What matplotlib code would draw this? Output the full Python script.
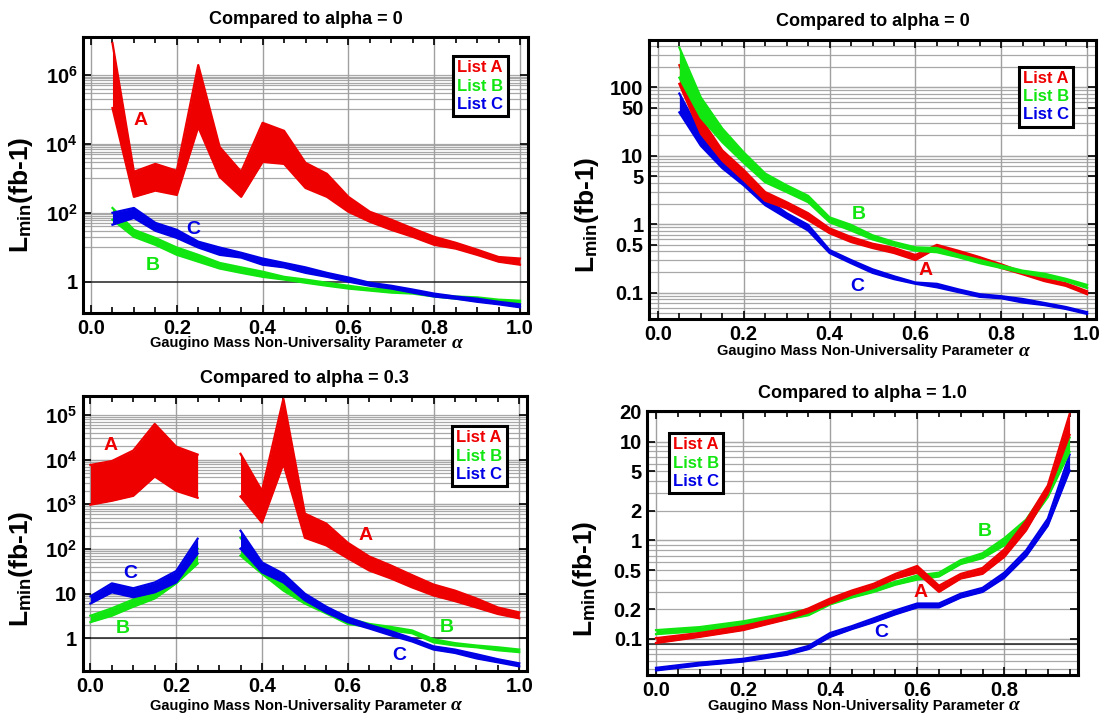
import numpy as np
import matplotlib
matplotlib.use('Agg')
import matplotlib.pyplot as plt
from matplotlib.lines import Line2D
from matplotlib.ticker import MultipleLocator, NullLocator, FormatStrFormatter

plt.rcParams['font.family'] = ['Liberation Sans', 'DejaVu Sans']
plt.rcParams['font.weight'] = 'bold'
plt.rcParams['mathtext.fontset'] = 'custom'
plt.rcParams['mathtext.rm'] = 'Liberation Sans:bold'
plt.rcParams['mathtext.bf'] = 'Liberation Sans:bold'
plt.rcParams['mathtext.it'] = 'Liberation Serif:italic'

RED = '#ee0000'
GREEN = '#11e611'
BLUE = '#0000e6'

# ---- panel 1: compared to alpha = 0 (wide range) ----
alpha_p1 = [0.05, 0.10, 0.15, 0.20, 0.25, 0.30, 0.35, 0.40, 0.45, 0.50,
            0.55, 0.60, 0.65, 0.70, 0.75, 0.80, 0.85, 0.90, 0.95, 1.00]
p1_a_hi = [8.5e6, 1550, 2630, 1660, 1.95e6, 8100, 1550, 4.1e4, 2.4e4, 2820,
           1350, 290, 107, 63, 35, 20, 13.5, 8.5, 5.2, 4.7]
p1_a_lo = [1.1e5, 290, 440, 330, 3.1e4, 1100, 290, 3000, 2630, 525,
           290, 107, 55, 32, 20, 11.7, 9.1, 6.0, 3.8, 3.1]
p1_b_hi = [138, 32, 18.6, 9.8, 6.0, 3.5, 2.6, 1.95, 1.38, 1.15,
           0.93, 0.76, 0.63, 0.59, 0.51, 0.42, 0.37, 0.35, 0.30, 0.28]
p1_b_lo = [63, 20, 11.7, 6.0, 3.8, 2.4, 1.8, 1.38, 1.15, 0.93,
           0.76, 0.63, 0.55, 0.48, 0.45, 0.37, 0.32, 0.28, 0.26, 0.25]
p1_c_hi = [100, 138, 51, 32, 14.5, 9.8, 6.9, 4.7, 3.5, 2.6,
           1.8, 1.32, 0.93, 0.76, 0.59, 0.45, 0.37, 0.32, 0.26, 0.22]
p1_c_lo = [45, 71, 30, 18.6, 9.8, 6.0, 5.0, 3.1, 2.6, 1.8,
           1.38, 1.0, 0.76, 0.63, 0.48, 0.37, 0.32, 0.26, 0.22, 0.18]

# ---- panel 2: compared to alpha = 0 ----
alpha_p2 = alpha_p1
p2_a_hi = [210, 35, 12, 6.2, 2.95, 2.1, 1.45, 0.87, 0.65, 0.52,
           0.45, 0.355, 0.50, 0.41, 0.33, 0.26, 0.20, 0.162, 0.138, 0.105]
p2_a_lo = [112, 21, 8.5, 4.4, 2.2, 1.7, 1.15, 0.74, 0.55, 0.45,
           0.38, 0.30, 0.45, 0.36, 0.30, 0.23, 0.186, 0.148, 0.126, 0.095]
p2_b_hi = [380, 71, 25, 11.2, 5.5, 3.7, 2.6, 1.26, 0.98, 0.69,
           0.55, 0.46, 0.45, 0.36, 0.30, 0.25, 0.21, 0.19, 0.16, 0.13]
p2_b_lo = [138, 36, 15.8, 7.9, 4.1, 2.95, 2.1, 1.07, 0.81, 0.60,
           0.49, 0.41, 0.39, 0.33, 0.27, 0.23, 0.195, 0.17, 0.148, 0.117]
p2_c_hi = [81, 21, 9.5, 5.1, 2.4, 1.45, 0.98, 0.42, 0.30, 0.22,
           0.174, 0.141, 0.135, 0.112, 0.095, 0.089, 0.081, 0.071, 0.062, 0.052]
p2_c_lo = [43, 14, 6.6, 3.7, 1.9, 1.23, 0.81, 0.38, 0.27, 0.195,
           0.158, 0.135, 0.12, 0.102, 0.087, 0.083, 0.072, 0.066, 0.058, 0.049]

# ---- panel 3: compared to alpha = 0.3 (gap around 0.3) ----
alpha_p3_left = [0.00, 0.05, 0.10, 0.15, 0.20, 0.25]
alpha_p3_right = [0.35, 0.40, 0.45, 0.50, 0.55, 0.60, 0.65,
                  0.70, 0.75, 0.80, 0.85, 0.90, 0.95, 1.00]
p3_a1_hi = [7600, 9300, 1.6e4, 6.3e4, 1.95e4, 1.3e4]
p3_a1_lo = [980, 1200, 1550, 4200, 2000, 1400]
p3_a2_hi = [1.35e4, 2000, 2.3e5, 620, 370, 138, 68, 43, 26, 16, 11.7, 7.8, 4.9, 3.8]
p3_a2_lo = [1500, 390, 8100, 178, 120, 62, 33, 22, 13.8, 9.1, 6.8, 4.9, 3.5, 2.8]
p3_b1_hi = [3.2, 4.7, 7.4, 10.7, 28, 102]
p3_b1_lo = [2.3, 3.2, 5.1, 7.8, 17, 47]
p3_b2_hi = [178, 43, 17.8, 8.3, 4.7, 2.8, 2.1, 1.8, 1.5, 0.95, 0.78, 0.69, 0.63, 0.56]
p3_b2_lo = [71, 28, 11.7, 6.0, 3.6, 2.1, 1.8, 1.5, 1.3, 0.81, 0.69, 0.63, 0.54, 0.49]
p3_c1_hi = [8.7, 17, 13.2, 17.8, 32, 170]
p3_c1_lo = [6.0, 10.7, 8.3, 10.7, 17.8, 79]
p3_c2_hi = [257, 50, 28, 10, 5.1, 2.95, 2.0, 1.45, 1.0, 0.66, 0.56, 0.44, 0.34, 0.275]
p3_c2_lo = [102, 30, 17.8, 7.1, 3.8, 2.3, 1.66, 1.17, 0.85, 0.56, 0.47, 0.355, 0.29, 0.235]

# ---- panel 4: compared to alpha = 1.0 ----
alpha_p4 = [0.00, 0.10, 0.20, 0.30, 0.35, 0.40, 0.45, 0.50, 0.55,
            0.60, 0.65, 0.70, 0.75, 0.80, 0.85, 0.90, 0.95]
p4_a_hi = [0.102, 0.115, 0.135, 0.17, 0.204, 0.257, 0.31, 0.363, 0.457,
           0.55, 0.347, 0.457, 0.525, 0.81, 1.58, 3.6, 19]
p4_a_lo = [0.091, 0.105, 0.123, 0.158, 0.186, 0.229, 0.282, 0.33, 0.41,
           0.47, 0.30, 0.41, 0.457, 0.68, 1.26, 3.0, 11.7]
p4_b_hi = [0.123, 0.132, 0.151, 0.182, 0.20, 0.25, 0.29, 0.33, 0.38,
           0.44, 0.47, 0.63, 0.74, 1.05, 1.62, 3.4, 11]
p4_b_lo = [0.112, 0.12, 0.135, 0.158, 0.174, 0.224, 0.263, 0.30, 0.355,
           0.40, 0.43, 0.575, 0.66, 0.89, 1.35, 2.75, 7.9]
p4_c_hi = [0.051, 0.0575, 0.063, 0.074, 0.085, 0.115, 0.135, 0.162, 0.195,
           0.229, 0.229, 0.288, 0.33, 0.47, 0.79, 1.66, 7.4]
p4_c_lo = [0.048, 0.054, 0.059, 0.069, 0.079, 0.105, 0.126, 0.148, 0.178,
           0.209, 0.209, 0.263, 0.30, 0.417, 0.69, 1.41, 5.1]

titles = ['Compared to alpha = 0', 'Compared to alpha = 0',
          'Compared to alpha = 0.3', 'Compared to alpha = 1.0']
legend_labels = ['List A', 'List B', 'List C']
xlabel = 'Gaugino Mass Non-Universality Parameter'
ylabel = 'L$_{\\mathbf{min}}$(fb-1)'

W, H = 1111, 717
fig = plt.figure(figsize=(W / 100, H / 100), dpi=100)


def make_axes(px_box):
    l, t, r, b = px_box
    ax = fig.add_axes([l / W, 1 - b / H, (r - l) / W, (b - t) / H])
    return ax, r - l, b - t


def band(ax, x, lo, hi, color, z):
    ax.fill_between(x, lo, hi, color=color, lw=0, zorder=z)
    ax.plot(x, lo, color=color, lw=1.6, zorder=z)
    ax.plot(x, hi, color=color, lw=1.6, zorder=z)


def decorate(ax, w, h, xlim, ylim, yticks, yticklabels, hgrid, hblack,
             title, ylab_dy, xlab_dy, leg_anchor, leg_loc):
    ax.set_yscale('log')
    ax.set_xlim(*xlim)
    ax.set_ylim(*ylim)
    ax.xaxis.set_major_locator(MultipleLocator(0.2))
    ax.xaxis.set_minor_locator(MultipleLocator(0.05))
    ax.xaxis.set_major_formatter(FormatStrFormatter('%.1f'))
    ax.set_yticks(yticks)
    ax.set_yticklabels(yticklabels)
    ax.yaxis.set_minor_locator(NullLocator())
    ax.tick_params(which='both', direction='in', top=True, right=True,
                   width=1.2, labelsize=14.5)
    ax.tick_params(which='major', length=6, pad=4)
    ax.tick_params(which='minor', length=4)
    for s in ax.spines.values():
        s.set_linewidth(2.2)
    ax.xaxis.grid(True, which='major', color='#a0a0a0', lw=1)
    for v in hgrid:
        ax.axhline(v, color='#a8a8a8', lw=0.9, zorder=0.5)
    if hblack is not None:
        ax.axhline(hblack, color='#202020', lw=1.1, zorder=0.6)
    ax.set_axisbelow(True)
    ax.text(0.5, 1 + 18 / h, title, transform=ax.transAxes, ha='center',
            va='center', fontsize=13, fontweight='bold')
    ax.set_ylabel(ylabel, fontsize=19, fontweight='bold', va='center')
    ax.yaxis.set_label_coords(-62 / w, 0.5 - ylab_dy / h)
    # x label text, then a larger serif alpha right after it
    lab = ax.set_xlabel(xlabel, fontsize=10.5, fontweight='bold', va='center')
    ax.xaxis.set_label_coords(0.5 - 7 / w, -xlab_dy / h)
    ax.annotate('$\\alpha$', xy=(1, 0.5), xycoords=lab, xytext=(3, 0),
                textcoords='offset points', ha='left', va='center', fontsize=14)
    handles = [Line2D([], [], lw=0) for _ in legend_labels]
    leg = ax.legend(handles, legend_labels, loc=leg_loc, bbox_to_anchor=leg_anchor,
                    borderaxespad=0, handlelength=0, handletextpad=0,
                    labelspacing=0.2, borderpad=0.25, fancybox=False,
                    framealpha=1, edgecolor='black',
                    prop={'size': 12, 'weight': 'bold'})
    leg.get_frame().set_linewidth(2.2)
    for txt, c in zip(leg.get_texts(), [RED, GREEN, BLUE]):
        txt.set_color(c)
    leg.set_zorder(10)


def decade_lines(ks, lo, hi):
    vals = []
    for k in ks:
        for j in range(1, 11):
            v = j * 10.0 ** k
            if lo < v < hi:
                vals.append(v)
    return vals


def tag(ax, x, y, s, color):
    ax.text(x, y, s, color=color, fontsize=14, fontweight='bold',
            ha='center', va='center', zorder=8)


# panel 1
ax, w, h = make_axes((83.3, 37.3, 527.7, 313.3))
band(ax, alpha_p1, p1_b_lo, p1_b_hi, GREEN, 3)
band(ax, alpha_p1, p1_c_lo, p1_c_hi, BLUE, 4)
band(ax, alpha_p1, p1_a_lo, p1_a_hi, RED, 5)
ylim1 = (10 ** -0.919, 10 ** 7.096)
decorate(ax, w, h, (-0.018, 1.018), ylim1, [1, 1e2, 1e4, 1e6],
         ['1', '$\\mathbf{10^{2}}$', '$\\mathbf{10^{4}}$', '$\\mathbf{10^{6}}$'],
         decade_lines([1, 3, 5], *ylim1), 1.0, titles[0], 20, 30,
         (0.955, 0.932), 'upper right')
tag(ax, 0.116, 4.8e4, 'A', RED)
tag(ax, 0.238, 33, 'C', BLUE)
tag(ax, 0.145, 2.9, 'B', GREEN)

# panel 2
ax, w, h = make_axes((649, 40, 1096, 319.3))
band(ax, alpha_p2, p2_c_lo, p2_c_hi, BLUE, 3)
band(ax, alpha_p2, p2_a_lo, p2_a_hi, RED, 4)
band(ax, alpha_p2, p2_b_lo, p2_b_hi, GREEN, 5)
ylim2 = (10 ** -1.388, 10 ** 2.69)
decorate(ax, w, h, (-0.0207, 1.0207), ylim2, [0.1, 0.5, 1, 5, 10, 50, 100],
         ['0.1', '0.5', '1', '5', '10', '50', '100'],
         decade_lines([-2, -1, 0, 1, 2], *ylim2), None, titles[1], 35, 32,
         (0.9485, 0.905), 'upper right')
tag(ax, 0.467, 1.4, 'B', GREEN)
tag(ax, 0.624, 0.21, 'A', RED)
tag(ax, 0.465, 0.125, 'C', BLUE)

# panel 3
ax, w, h = make_axes((82.7, 396, 527, 671))
band(ax, alpha_p3_left, p3_a1_lo, p3_a1_hi, RED, 3)
band(ax, alpha_p3_right, p3_a2_lo, p3_a2_hi, RED, 3)
band(ax, alpha_p3_left, p3_b1_lo, p3_b1_hi, GREEN, 4)
band(ax, alpha_p3_right, p3_b2_lo, p3_b2_hi, GREEN, 4)
band(ax, alpha_p3_left, p3_c1_lo, p3_c1_hi, BLUE, 5)
band(ax, alpha_p3_right, p3_c2_lo, p3_c2_hi, BLUE, 5)
ylim3 = (10 ** -0.732, 10 ** 5.425)
decorate(ax, w, h, (-0.018, 1.018), ylim3, [1, 10, 1e2, 1e3, 1e4, 1e5],
         ['1', '10', '$\\mathbf{10^{2}}$', '$\\mathbf{10^{3}}$',
          '$\\mathbf{10^{4}}$', '$\\mathbf{10^{5}}$'],
         decade_lines([0, 1, 2, 3, 4], *ylim3), 1.0, titles[2], 35, 35,
         (0.954, 0.890), 'upper right')
tag(ax, 0.047, 2.1e4, 'A', RED)
tag(ax, 0.093, 28.5, 'C', BLUE)
tag(ax, 0.076, 1.7, 'B', GREEN)
tag(ax, 0.642, 200, 'A', RED)
tag(ax, 0.832, 1.76, 'B', GREEN)
tag(ax, 0.72, 0.41, 'C', BLUE)

# panel 4
ax, w, h = make_axes((647.3, 411, 1078.3, 675))
band(ax, alpha_p4, p4_c_lo, p4_c_hi, BLUE, 3)
band(ax, alpha_p4, p4_b_lo, p4_b_hi, GREEN, 4)
band(ax, alpha_p4, p4_a_lo, p4_a_hi, RED, 5)
ylim4 = (10 ** -1.365, 10 ** 1.311)
decorate(ax, w, h, (-0.020, 0.970), ylim4, [0.1, 0.2, 0.5, 1, 2, 5, 10, 20],
         ['0.1', '0.2', '0.5', '1', '2', '5', '10', '20'],
         decade_lines([-2, -1, 0, 1], *ylim4), 0.09, titles[3], 36, 31,
         (0.050, 0.9155), 'upper left')
tag(ax, 0.754, 1.24, 'B', GREEN)
tag(ax, 0.608, 0.294, 'A', RED)
tag(ax, 0.518, 0.117, 'C', BLUE)

fig.savefig('out.png', dpi=100)
